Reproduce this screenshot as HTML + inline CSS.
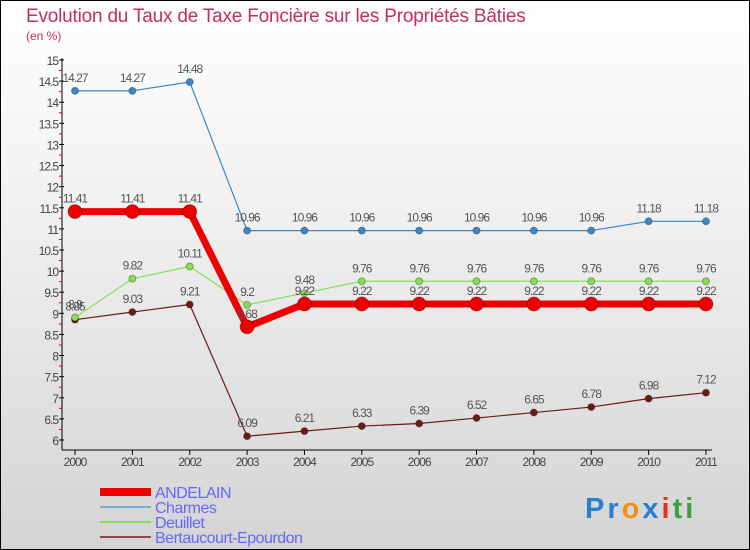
<!DOCTYPE html>
<html><head><meta charset="utf-8"><style>
body{margin:0}
#c{width:750px;height:550px;position:relative;box-sizing:border-box;border:1px solid #000;background:linear-gradient(#fff,#f0f0f0 40%,#d4d4d4);overflow:hidden;font-family:"Liberation Sans",sans-serif}
</style></head><body>
<div id="c">
<svg id="s" width="750" height="550" style="position:absolute;left:-1px;top:-1px"></svg>
</div>
<script>
const years=["2000","2001","2002","2003","2004","2005","2006","2007","2008","2009","2010","2011"];
const andelain=[11.41,11.41,11.41,8.68,9.22,9.22,9.22,9.22,9.22,9.22,9.22,9.22];
const charmes=[14.27,14.27,14.48,10.96,10.96,10.96,10.96,10.96,10.96,10.96,11.18,11.18];
const deuillet=[8.9,9.82,10.11,9.2,9.48,9.76,9.76,9.76,9.76,9.76,9.76,9.76];
const bertaucourt=[8.85,9.03,9.21,6.09,6.21,6.33,6.39,6.52,6.65,6.78,6.98,7.12];
const yTicks=["6","6.5","7","7.5","8","8.5","9","9.5","10","10.5","11","11.5","12","12.5","13","13.5","14","14.5","15"];
const NS="http://www.w3.org/2000/svg";
const s=document.getElementById('s');
const X=i=>75+i*57.36, Y=v=>440-(v-6)*42.22;
function el(t,a,txt){const e=document.createElementNS(NS,t);for(const k in a)e.setAttribute(k,a[k]);if(txt!=null)e.textContent=txt;s.appendChild(e);return e;}
let e;
e=el('text',{x:26,y:22,'font-size':19,fill:'#c0305a','letter-spacing':'-0.2'},'Evolution du Taux de Taxe Foncière sur les Propriétés Bâties');


e=el('text',{x:26,y:40,'font-size':12,fill:'#c0305a'},'(en %)');


e=el('line',{x1:62,y1:58,x2:62,y2:450,stroke:'#000'});


e=el('line',{x1:62,y1:450,x2:712,y2:450,stroke:'#000'});


yTicks.forEach((t,i)=>{const v=parseFloat(t),y=Y(v);
 el('line',{x1:59,y1:y,x2:64,y2:y,stroke:'#000'});
 if(i<yTicks.length-1)el('line',{x1:59,y1:Y(v+0.25),x2:62,y2:Y(v+0.25),stroke:'#e00'});
 e=el('text',{x:58,y:y+5,'font-size':12,fill:'#444','text-anchor':'end','letter-spacing':'-1'},t);
 
 });
years.forEach((t,i)=>{el('line',{x1:X(i),y1:450,x2:X(i),y2:455,stroke:'#000'});
 e=el('text',{x:X(i),y:466,'font-size':12,fill:'#444','text-anchor':'middle','letter-spacing':'-1'},t);
 
 });
function series(d,col,w,r,name){
 e=el('polyline',{points:d.map((v,i)=>X(i)+','+Y(v)).join(' '),fill:'none',stroke:col,'stroke-width':w,'stroke-linejoin':'round'});
 
 
 d.forEach((v,i)=>{e=el('circle',{cx:X(i),cy:Y(v),r:r,fill:col,stroke:'rgba(0,0,0,0.3)'});
  
  
  e=el('text',{x:X(i),y:Y(v)-9,'font-size':12,fill:'#555','text-anchor':'middle','letter-spacing':'-1'},String(v));
  
  });}
series(bertaucourt,'#6b1a1a',1.2,3.5,'bertaucourt');
series(deuillet,'#88dd55',1.2,3.5,'deuillet');
series(charmes,'#3a88c8',1.2,3.5,'charmes');
series(andelain,'#ee0000',7,7,'andelain');
const leg=[["ANDELAIN","#ee0000",8],["Charmes","#7aaed0",2],["Deuillet","#88dd55",2],["Bertaucourt-Epourdon","#8a4a4a",2]];
leg.forEach((l,i)=>{const y=492+i*15;
 e=el('line',{x1:100,y1:y,x2:151,y2:y,stroke:l[1],'stroke-width':l[2]});
 
 
 e=el('text',{x:155,y:y+6,'font-size':16,fill:'#6666ff','letter-spacing':'-0.5'},l[0]);
 
 });
const logo=[["P","#2a7fd0"],["r","#2a7fd0"],["o","#f0901a"],["x","#2a7fd0"],["i","#e03020"],["t","#3aa040"],["i","#3aa040"]];
e=el('text',{x:585,y:518,'font-size':29,'font-weight':'bold','letter-spacing':'3'});


logo.forEach(l=>{const t=document.createElementNS(NS,'tspan');t.setAttribute('fill',l[1]);t.textContent=l[0];e.appendChild(t);});
</script>
</body></html>
